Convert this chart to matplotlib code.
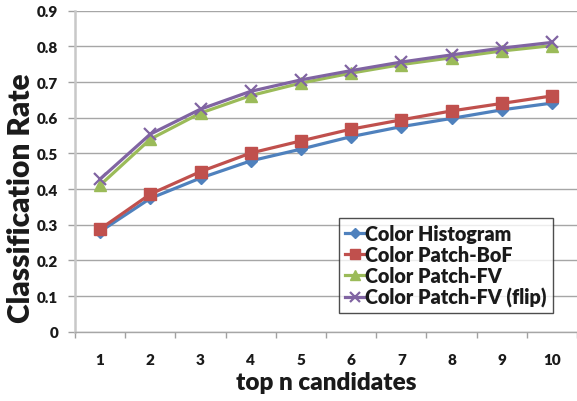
import matplotlib
matplotlib.use("Agg")
from matplotlib import pyplot as plt

# data
top_n = [1, 2, 3, 4, 5, 6, 7, 8, 9, 10]
color_hist = [0.281, 0.374, 0.431, 0.479, 0.512, 0.547, 0.575, 0.598, 0.622, 0.641]
patch_bof = [0.288, 0.386, 0.449, 0.501, 0.535, 0.568, 0.594, 0.619, 0.640, 0.661]
patch_fv = [0.411, 0.540, 0.613, 0.662, 0.697, 0.725, 0.749, 0.768, 0.787, 0.802]
patch_fv_flip = [0.428, 0.554, 0.624, 0.674, 0.706, 0.732, 0.756, 0.776, 0.795, 0.811]
y_ticks = [0, 0.1, 0.2, 0.3, 0.4, 0.5, 0.6, 0.7, 0.8, 0.9]
y_tick_labels = ["0", "0.1", "0.2", "0.3", "0.4", "0.5", "0.6", "0.7", "0.8", "0.9"]

plt.rcParams['font.family'] = ['Lato', 'DejaVu Sans']
plt.rcParams['font.weight'] = 'heavy'
txt = '#1a1a1a'

fig = plt.figure(figsize=(5.77, 4.02), dpi=100)
ax = fig.add_axes([0.130, 0.172, 0.870, 0.799])

ax.plot(top_n, color_hist, color='#4F81BD', marker='D', markersize=6.5, linewidth=2.3, label='Color Histogram')
ax.plot(top_n, patch_bof, color='#C0504D', marker='s', markersize=8, linewidth=2.3, label='Color Patch-BoF')
ax.plot(top_n, patch_fv, color='#9BBB59', marker='^', markersize=9, linewidth=2.3, label='Color Patch-FV')
ax.plot(top_n, patch_fv_flip, color='#8064A2', marker='x', markersize=8.5, markeredgewidth=1.6,
        linewidth=2.3, label='Color Patch-FV (flip)')

ax.set_xlim(0.5, 10.5)
ax.set_ylim(0, 0.9)
ax.set_yticks(y_ticks)
ax.set_yticklabels(y_tick_labels)
ax.set_xticks(top_n)
ax.set_xticks([i + 0.5 for i in range(0, 11)], minor=True)
ax.tick_params(axis='x', which='major', length=0, pad=15, labelsize=11, labelcolor=txt)
ax.tick_params(axis='x', which='minor', length=4, color='#A0A0A0', width=1, direction='out')
ax.tick_params(axis='y', length=5, color='#A0A0A0', width=1, pad=7, labelsize=11, labelcolor=txt)
ax.grid(axis='y', color='#A6A6A6', linewidth=1)
ax.set_axisbelow(True)

for side in ['top', 'right']:
    ax.spines[side].set_visible(False)
ax.spines['left'].set_color('#C8C8C8')
ax.spines['left'].set_linewidth(1.8)
ax.spines['bottom'].set_color('#A6A6A6')
ax.spines['bottom'].set_linewidth(1)

ax.set_ylabel('Classification Rate', fontsize=21.5, fontweight='heavy', color=txt)
ax.yaxis.set_label_coords(-0.080, 0.42)
ax.set_xlabel('top n candidates', fontsize=17.5, fontweight='heavy', color=txt, labelpad=4)

leg = ax.legend(loc='lower right', bbox_to_anchor=(0.952, 0.058), fontsize=14.2, frameon=True,
                fancybox=False, edgecolor='#222222', handlelength=1.0, handletextpad=0.05,
                borderpad=0.3, labelspacing=0.1, borderaxespad=0, markerscale=0.85)
leg.get_frame().set_linewidth(1)
for t in leg.get_texts():
    t.set_color(txt)

fig.savefig('out.png', dpi=100)
